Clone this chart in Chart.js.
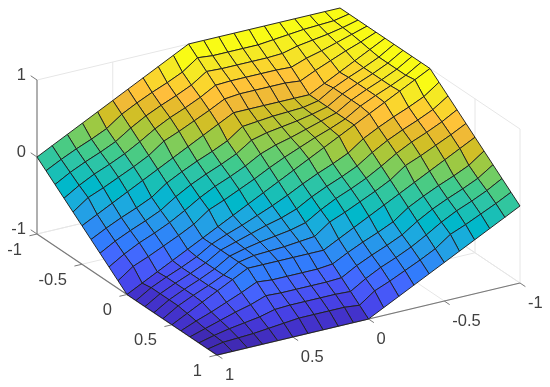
<!DOCTYPE html>
<html>
<head>
<meta charset="utf-8">
<title>surface</title>
<script src="https://cdn.jsdelivr.net/npm/chart.js@4"></script>
<style>
  html, body { margin: 0; padding: 0; background: #fff; }
  canvas { display: block; }
</style>
</head>
<body>
<canvas id="grafico" width="550" height="387"></canvas>
<script>
// axis ticks
const leftTicks = [-1, -0.5, 0, 0.5, 1];
const rightTicks = [-1, -0.5, 0, 0.5, 1];
const zTicks = [-1, 0, 1];

// grid of the surface, -1 to 1 on both floor axes
const gridA = [-1, -0.9, -0.8, -0.7, -0.6, -0.5, -0.4, -0.3, -0.2, -0.1, 0, 0.1, 0.2, 0.3, 0.4, 0.5, 0.6, 0.7, 0.8, 0.9, 1];
const gridB = [-1, -0.9, -0.8, -0.7, -0.6, -0.5, -0.4, -0.3, -0.2, -0.1, 0, 0.1, 0.2, 0.3, 0.4, 0.5, 0.6, 0.7, 0.8, 0.9, 1];

// heights, one row per gridA value
const zRows = [
  [1, 1, 1, 1, 1, 1, 1, 1, 1, 1, 1, .9, .8, .7, .6, .5, .4, .3, .2, .1, 0],
  [1, .96, .95, .94, .92, .9, .88, .88, .88, .88, .9, .76, .67, .59, .5, .4, .26, .17, .09, 0, -.1],
  [1, .95, .91, .88, .85, .8, .79, .79, .79, .79, .8, .67, .58, .5, .41, .3, .17, .08, 0, -.09, -.2],
  [1, .94, .88, .82, .77, .7, .71, .71, .71, .71, .7, .59, .5, .42, .32, .2, .09, 0, -.08, -.18, -.3],
  [1, .92, .85, .77, .69, .6, .62, .62, .62, .62, .6, .5, .41, .32, .24, .1, 0, -.09, -.18, -.26, -.4],
  [1, .9, .8, .7, .6, .5, .5, .5, .5, .5, .5, .4, .3, .2, .1, 0, -.1, -.2, -.3, -.4, -.5],
  [1, .88, .79, .71, .62, .5, .46, .45, .44, .42, .4, .26, .17, .09, 0, -.1, -.24, -.33, -.41, -.5, -.6],
  [1, .88, .79, .71, .62, .5, .45, .41, .38, .35, .3, .17, .08, 0, -.09, -.2, -.33, -.42, -.5, -.59, -.7],
  [1, .88, .79, .71, .62, .5, .44, .38, .32, .27, .2, .09, 0, -.08, -.18, -.3, -.41, -.5, -.58, -.68, -.8],
  [1, .88, .79, .71, .62, .5, .42, .35, .27, .19, .1, 0, -.09, -.18, -.26, -.4, -.5, -.59, -.68, -.76, -.9],
  [1, .9, .8, .7, .6, .5, .4, .3, .2, .1, 0, -.1, -.2, -.3, -.4, -.5, -.6, -.7, -.8, -.9, -1],
  [.9, .76, .67, .59, .5, .4, .26, .17, .09, 0, -.1, -.19, -.27, -.35, -.42, -.5, -.62, -.71, -.79, -.88, -1],
  [.8, .67, .58, .5, .41, .3, .17, .08, 0, -.09, -.2, -.27, -.32, -.38, -.44, -.5, -.62, -.71, -.79, -.88, -1],
  [.7, .59, .5, .42, .32, .2, .09, 0, -.08, -.18, -.3, -.35, -.38, -.41, -.45, -.5, -.62, -.71, -.79, -.88, -1],
  [.6, .5, .41, .32, .24, .1, 0, -.09, -.18, -.26, -.4, -.42, -.44, -.45, -.46, -.5, -.62, -.71, -.79, -.88, -1],
  [.5, .4, .3, .2, .1, 0, -.1, -.2, -.3, -.4, -.5, -.5, -.5, -.5, -.5, -.5, -.6, -.7, -.8, -.9, -1],
  [.4, .26, .17, .09, 0, -.1, -.24, -.33, -.41, -.5, -.6, -.62, -.62, -.62, -.62, -.6, -.69, -.77, -.85, -.92, -1],
  [.3, .17, .08, 0, -.09, -.2, -.33, -.42, -.5, -.59, -.7, -.71, -.71, -.71, -.71, -.7, -.77, -.82, -.88, -.94, -1],
  [.2, .09, 0, -.08, -.18, -.3, -.41, -.5, -.58, -.68, -.8, -.79, -.79, -.79, -.79, -.8, -.85, -.88, -.91, -.95, -1],
  [.1, 0, -.09, -.18, -.26, -.4, -.5, -.59, -.68, -.76, -.9, -.88, -.88, -.88, -.88, -.9, -.92, -.94, -.95, -.96, -1],
  [0, -.1, -.2, -.3, -.4, -.5, -.6, -.7, -.8, -.9, -1, -1, -1, -1, -1, -1, -1, -1, -1, -1, -1]
];

// parula colormap
const parula = [
  [.2422,.1504,.6603],[.2504,.165,.7076],[.2578,.1818,.7511],[.2647,.1978,.7952],[.2706,.2147,.8364],[.2751,.2342,.871],[.2783,.2559,.8991],[.2803,.2782,.9221],
  [.2813,.3006,.9414],[.281,.3228,.9579],[.2795,.3447,.9717],[.276,.3667,.9829],[.2699,.3892,.9906],[.2602,.4123,.9952],[.244,.4358,.9988],[.2206,.4603,.9973],
  [.1963,.4847,.9892],[.1834,.5074,.9798],[.1786,.5289,.9682],[.1764,.5499,.952],[.1687,.5703,.9359],[.154,.5902,.9218],[.146,.6091,.9079],[.138,.6276,.8973],
  [.1248,.6459,.8883],[.1113,.6635,.8763],[.0952,.6798,.8598],[.0689,.6948,.8394],[.0297,.7082,.8163],[.0036,.7203,.7917],[.0067,.7312,.766],[.0433,.7411,.7394],
  [.0964,.75,.712],[.1408,.7584,.6842],[.1717,.767,.6554],[.1938,.7758,.6251],[.2161,.7843,.5923],[.247,.7918,.5567],[.2906,.7973,.5188],[.3406,.8008,.4789],
  [.3909,.8029,.4354],[.4456,.8024,.3909],[.5044,.7993,.348],[.5616,.7942,.3045],[.6174,.7876,.2612],[.672,.7793,.2227],[.7242,.7698,.191],[.7738,.7598,.1646],
  [.8203,.7498,.1535],[.8634,.7406,.1596],[.9035,.733,.1774],[.9393,.7288,.21],[.9728,.7298,.2394],[.9956,.7434,.2371],[.997,.7659,.2199],[.9952,.7893,.2028],
  [.9892,.8136,.1885],[.9786,.8386,.1766],[.9676,.8639,.1643],[.961,.889,.1537],[.9597,.9135,.1423],[.9628,.9373,.1265],[.9691,.9606,.1064],[.9769,.9839,.0805]
];

// view of the 3d box, screen position of a (a, b, z) point
function project(a, b, z) {
  return {
    x: 278.5 + 90 * a - 151.5 * b,
    y: 181.5 + 60.5 * a + 36 * b - 77 * z
  };
}

function colorFor(z) {
  let idx = Math.floor((z + 1) / 2 * 64);
  if (idx > 63) idx = 63;
  if (idx < 0) idx = 0;
  const c = parula[idx];
  return `rgb(${Math.round(c[0] * 255)},${Math.round(c[1] * 255)},${Math.round(c[2] * 255)})`;
}

function lineSet(points, color, width) {
  return {
    data: points,
    showLine: true,
    fill: false,
    borderColor: color,
    borderWidth: width,
    pointRadius: 0,
    tension: 0
  };
}

const GRID = '#e6e6e6';
const AXIS = '#7a7a7a';
let sets = [];

// walls and floor grid
leftTicks.forEach(t => {
  sets.push(lineSet([project(t, 1, -1), project(t, -1, -1), project(t, -1, 1)], GRID, 1));
});
rightTicks.forEach(t => {
  sets.push(lineSet([project(1, t, -1), project(-1, t, -1), project(-1, t, 1)], GRID, 1));
});
zTicks.forEach(t => {
  sets.push(lineSet([project(-1, 1, t), project(-1, -1, t), project(1, -1, t)], GRID, 1));
});

// axis lines and tick marks
sets.push(lineSet([project(-1, 1, -1), project(-1, 1, 1)], '#9a9a9a', 1.5));
sets.push(lineSet([project(-1, 1, -1), project(1, 1, -1), project(1, -1, -1)], AXIS, 1.2));
leftTicks.forEach(t => {
  sets.push(lineSet([project(t, 1, -1), project(t, 1.05, -1)], AXIS, 1));
});
rightTicks.forEach(t => {
  sets.push(lineSet([project(1, t, -1), project(1.06, t, -1)], AXIS, 1));
});
zTicks.forEach(t => {
  sets.push(lineSet([project(-1, 1, t), project(-1.07, 1, t)], AXIS, 1));
});

// surface, back cells first
for (let i = 0; i < gridA.length - 1; i++) {
  for (let j = 0; j < gridB.length - 1; j++) {
    const cell = [
      project(gridA[i], gridB[j], zRows[i][j]),
      project(gridA[i + 1], gridB[j], zRows[i + 1][j]),
      project(gridA[i + 1], gridB[j + 1], zRows[i + 1][j + 1]),
      project(gridA[i], gridB[j + 1], zRows[i][j + 1]),
      project(gridA[i], gridB[j], zRows[i][j])
    ];
    const s = lineSet(cell, '#202020', 0.95);
    s.fill = 'shape';
    s.backgroundColor = colorFor(zRows[i][j]);
    sets.push(s);
  }
}

// tick labels
const axisLabels = {
  id: 'axisLabels',
  afterDraw(chart) {
    const ctx = chart.ctx;
    const sx = chart.scales.x, sy = chart.scales.y;
    ctx.save();
    ctx.font = '16.5px "Liberation Sans", Arial, sans-serif';
    ctx.fillStyle = '#404040';
    ctx.textBaseline = 'middle';
    ctx.textAlign = 'right';
    leftTicks.forEach(t => {
      const p = project(t, 1, -1);
      ctx.fillText(String(t), sx.getPixelForValue(p.x) - 15, sy.getPixelForValue(p.y) + 16);
    });
    zTicks.forEach(t => {
      const p = project(-1, 1, t);
      ctx.fillText(String(t), sx.getPixelForValue(p.x) - 11, sy.getPixelForValue(p.y) - 5);
    });
    ctx.textAlign = 'left';
    rightTicks.forEach(t => {
      const p = project(1, t, -1);
      ctx.fillText(String(t), sx.getPixelForValue(p.x) + 8, sy.getPixelForValue(p.y) + 20);
    });
    ctx.restore();
  }
};

new Chart(document.getElementById('grafico'), {
  type: 'scatter',
  data: { datasets: sets.reverse() },
  options: {
    responsive: false,
    animation: false,
    events: [],
    layout: { padding: 0 },
    scales: {
      x: { type: 'linear', min: 0, max: 550, display: false },
      y: { type: 'linear', min: 0, max: 387, reverse: true, display: false }
    },
    plugins: { legend: { display: false }, tooltip: { enabled: false } }
  },
  plugins: [axisLabels]
});
</script>
</body>
</html>
